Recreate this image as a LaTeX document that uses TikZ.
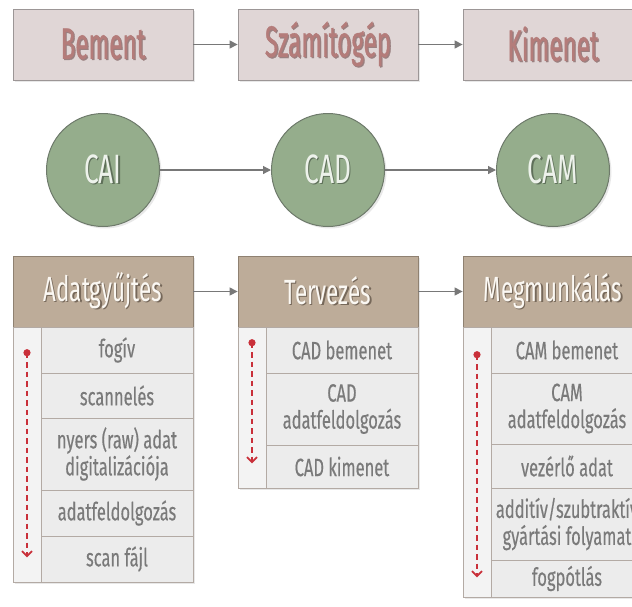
\documentclass[tikz,border=0pt]{standalone}
\usepackage{fontspec}
\setmainfont{Fira Sans}[FakeStretch=0.66,FakeBold=0.35]
\newfontfamily\topfont{Fira Sans}[FakeStretch=0.55,FakeBold=0.7]
\newfontfamily\condfont{Fira Sans}[FakeStretch=0.64]
\usetikzlibrary{arrows.meta,shadows,calc}
\definecolor{topfill}{HTML}{E0D6D6}
\definecolor{topborder}{HTML}{9C9696}
\definecolor{toptext}{HTML}{B47C7A}
\definecolor{topshade}{HTML}{9A8080}
\definecolor{circfill}{HTML}{95AD8C}
\definecolor{circborder}{HTML}{6E7A6B}
\definecolor{circtext}{HTML}{EDF2EB}
\definecolor{circshade}{HTML}{5F705A}
\definecolor{headfill}{HTML}{BDAC99}
\definecolor{headborder}{HTML}{8F8171}
\definecolor{headtext}{HTML}{FBF8F3}
\definecolor{headshade}{HTML}{76685A}
\definecolor{cellfill}{HTML}{ECECEC}
\definecolor{cellborder}{HTML}{B3AAA4}
\definecolor{celltext}{HTML}{7A7A7A}
\definecolor{stripfill}{HTML}{F3F3F3}
\definecolor{flowred}{HTML}{C9303A}
\definecolor{arrowgray}{HTML}{787878}
% text with a soft offset shadow
\newcommand\shtext[2]{\makebox[0pt][l]{\kern1.2pt\raisebox{-1.2pt}{\textcolor{#1}{#2}}}#2}
\tikzset{
  softshadow/.style={drop shadow={shadow xshift=2pt,shadow yshift=-2pt,opacity=0.18}},
  topbox/.style={draw=topborder,fill=topfill,line width=0.8pt,minimum width=180pt,minimum height=71pt,inner sep=0pt,
    font=\topfont\fontsize{44}{48}\selectfont,text=toptext,softshadow},
  circ/.style={circle,draw=circborder,fill=circfill,line width=1pt,minimum size=113pt,inner sep=0pt,
    font=\condfont\fontsize{41}{44}\selectfont,text=circtext,softshadow},
  head/.style={draw=headborder,fill=headfill,line width=0.8pt,minimum width=180pt,minimum height=71pt,inner sep=0pt,
    font=\condfont\fontsize{35}{38}\selectfont,text=headtext,softshadow},
  listbg/.style={draw=cellborder,fill=cellfill,line width=0.6pt,inner sep=0pt,softshadow},
  stripbox/.style={draw=cellborder,fill=stripfill,line width=0.6pt,inner sep=0pt,minimum width=28pt},
  cell/.style={draw=cellborder,fill=cellfill,line width=0.6pt,inner sep=0pt,align=center,minimum width=152pt,
    font=\fontsize{25}{27}\selectfont,text=celltext},
  link/.style={draw=arrowgray,line width=1.2pt,-{Triangle[length=8pt,width=8pt]}},
  flow/.style={draw=flowred,line width=1.8pt,dash pattern=on 5.5pt off 4pt,-{Straight Barb[length=5pt,width=10pt]}},
}
\begin{document}
\begin{tikzpicture}[x=1pt,y=-1pt]
\useasboundingbox (0,0) rectangle (632,606);
% top row
\node[topbox] (bem) at (103,44.5) {\shtext{topshade}{Bement}};
\node[topbox] (szg) at (328,44.5) {\shtext{topshade}{Számítógép}};
\node[topbox] (kim) at (553,44.5) {\shtext{topshade}{Kimenet}};
\draw[link] (bem) -- (szg);
\draw[link] (szg) -- (kim);
% circles
\node[circ] (cai) at (103,170) {\shtext{circshade}{CAI}};
\node[circ] (cad) at (328,170) {\shtext{circshade}{CAD}};
\node[circ] (cam) at (553,170) {\shtext{circshade}{CAM}};
\draw[link] (cai) -- (cad);
\draw[link] (cad) -- (cam);
% headers
\node[head] (h1) at (103,291.5) {\shtext{headshade}{Adatgyűjtés}};
\node[head] (h2) at (328,291.5) {\shtext{headshade}{Tervezés}};
\node[head] (h3) at (553,291.5) {\shtext{headshade}{Megmunkálás}};
\draw[link] (h1) -- (h2);
\draw[link] (h2) -- (h3);
% list backgrounds
\node[listbg,minimum width=180pt,minimum height=255pt] (b1) at (103,454.5) {};
\node[listbg,minimum width=180pt,minimum height=161pt] (b2) at (328,407.5) {};
\node[listbg,minimum width=180pt,minimum height=270pt] (b3) at (553,462) {};
% strips
\node[stripbox,minimum height=255pt] (s1) at (27,454.5) {};
\node[stripbox,minimum height=161pt] (s2) at (252,407.5) {};
\node[stripbox,minimum height=270pt] (s3) at (477,462) {};
% column 1 cells
\node[cell,minimum height=46pt] (c11) at (117,350) {fogív};
\node[cell,minimum height=45pt] (c12) at (117,395.5) {scannelés};
\node[cell,minimum height=72pt] (c13) at (117,454) {nyers (raw) adat\\digitalizációja};
\node[cell,minimum height=46pt] (c14) at (117,513) {adatfeldolgozás};
\node[cell,minimum height=46pt] (c15) at (117,559) {scan fájl};
% column 2 cells
\node[cell,minimum height=46pt] (c21) at (342,350) {CAD bemenet};
\node[cell,minimum height=72pt] (c22) at (342,409) {CAD\\adatfeldolgozás};
\node[cell,minimum height=43pt] (c23) at (342,466.5) {CAD kimenet};
% column 3 cells
\node[cell,minimum height=46pt] (c31) at (567,350) {CAM bemenet};
\node[cell,minimum height=71pt] (c32) at (567,408.5) {CAM\\adatfeldolgozás};
\node[cell,minimum height=44pt] (c33) at (567,466) {vezérlő adat};
\node[cell,minimum height=72pt] (c34) at (567,524) {additív/szubtraktív\\gyártási folyamat};
\node[cell,minimum height=37pt] (c35) at (567,578.5) {fogpótlás};
% red flow arrows
\coordinate (f1a) at ($(s1.north)+(0,26)$);
\coordinate (f1b) at ($(s1.south)+(0,-25)$);
\coordinate (f2a) at ($(s2.north)+(0,16)$);
\coordinate (f2b) at ($(s2.south)+(0,-25)$);
\coordinate (f3a) at ($(s3.north)+(0,28)$);
\coordinate (f3b) at ($(s3.south)+(0,-20)$);
\draw[flow] (f1a) -- (f1b);
\draw[flow] (f2a) -- (f2b);
\draw[flow] (f3a) -- (f3b);
\fill[flowred] (f1a) circle (3.6pt);
\fill[flowred] (f2a) circle (3.6pt);
\fill[flowred] (f3a) circle (3.6pt);
\end{tikzpicture}
\end{document}
